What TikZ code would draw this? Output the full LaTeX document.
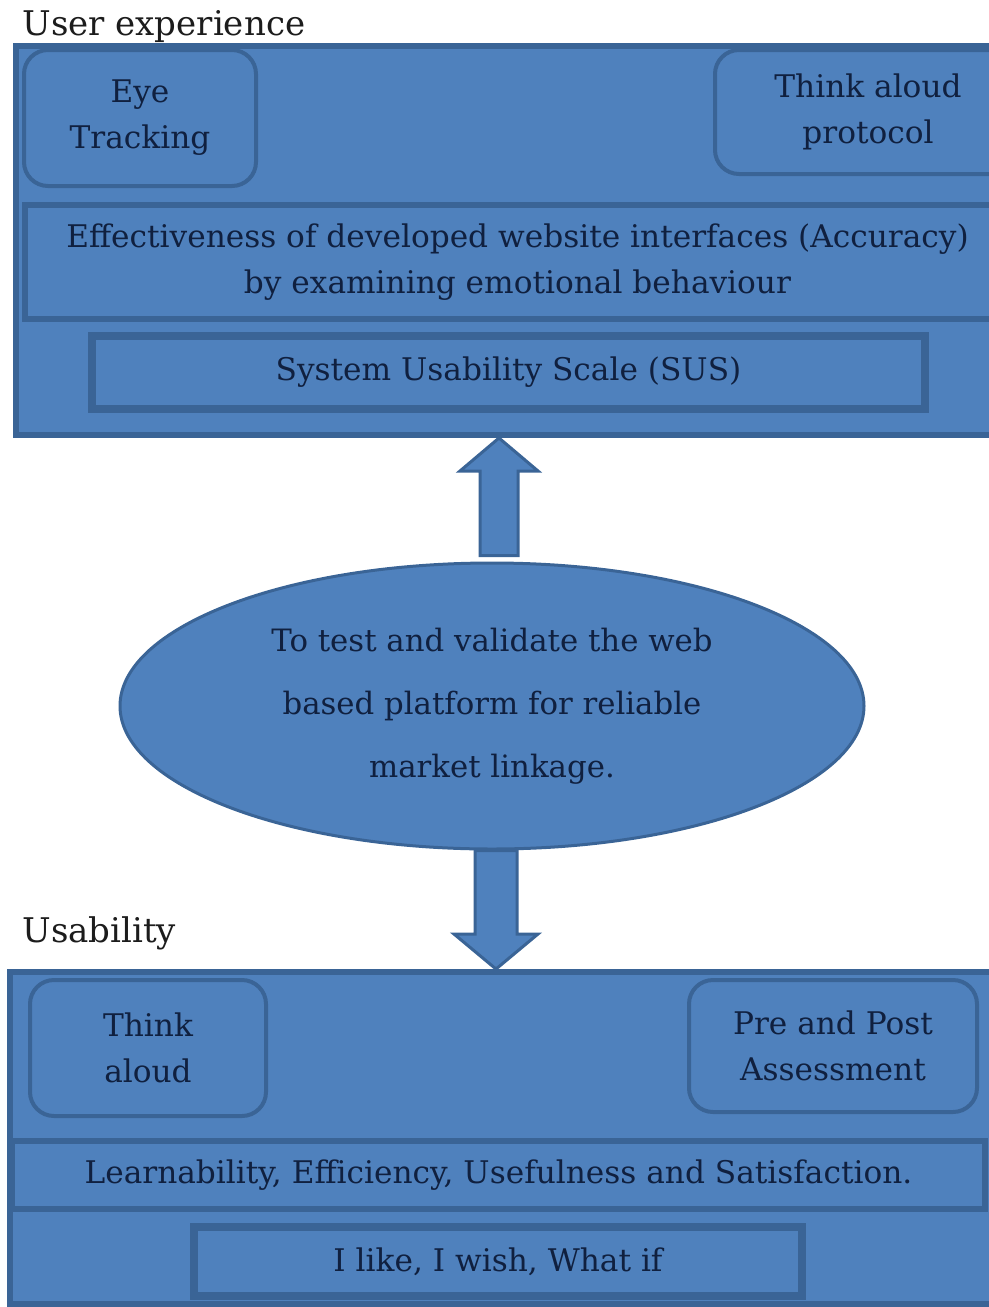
\documentclass[tikz,border=0pt]{standalone}
\usepackage{fontspec}
\setmainfont{DejaVu Serif}
\usepackage{xcolor}
\usepackage{tikz}
\usetikzlibrary{calc,shapes.geometric}
\definecolor{boxfill}{HTML}{4F81BD}
\definecolor{boxline}{HTML}{3A6496}
\definecolor{boxtext}{HTML}{10203F}
\definecolor{labeltext}{HTML}{1C1C1C}

\begin{document}
\begin{tikzpicture}[x=0.5pt,y=-0.5pt,
    panel/.style={draw=boxline,fill=boxfill,line width=3pt,rectangle},
    band/.style={draw=boxline,fill=boxfill,line width=3pt,rectangle,text=boxtext,
      align=center,font=\fontsize{15.6}{23}\selectfont},
    roundbox/.style={band,rounded corners=12pt,line width=2pt},
    framebox/.style={band,line width=4pt},
    heading/.style={text=labeltext,inner sep=0pt,anchor=base west,font=\fontsize{17}{24}\selectfont},
    blockarrow/.style={draw=boxline,fill=boxfill,line width=1.5pt,line join=miter}]
  \useasboundingbox (0,0) rectangle (989,1307);
  \clip (0,0) rectangle (989,1307);

  \node[heading] (uxlabel) at (22,35) {User experience};
  \node[panel,minimum width=492pt,minimum height=194.5pt] (uxbox) at (508,240.5) {};
  \node[roundbox,minimum width=116pt,minimum height=68pt] (eyetrack) at (140,118) {Eye\\Tracking};
  \node[roundbox,minimum width=153pt,minimum height=62pt] (thinkproto) at (868,112) {Think aloud\\protocol};
  \node[band,minimum width=492.5pt,minimum height=57pt] (effect) at (517.5,262)
    {Effectiveness of developed website interfaces (Accuracy)\\by examining emotional behaviour};
  \node[framebox,minimum width=416.5pt,minimum height=36.5pt] (sus) at (508.5,372.5) {System Usability Scale (SUS)};

  \node[draw=boxline,fill=boxfill,line width=1.5pt,ellipse,minimum width=372pt,minimum height=143pt,
    text=boxtext,align=center,font=\fontsize{15.4}{31.5}\selectfont] (goal) at (492,706)
    {To test and validate the web\\based platform for reliable\\market linkage.};

  \node[heading] (uselabel) at (22,942) {Usability};
  \node[panel,minimum width=495pt,minimum height=166pt] (usebox) at (505,1138) {};
  \node[roundbox,minimum width=118pt,minimum height=68pt] (thinkaloud) at (148,1048) {Think\\aloud};
  \node[roundbox,minimum width=144pt,minimum height=66pt] (prepost) at (833,1046) {Pre and Post\\Assessment};
  \node[band,minimum width=486.5pt,minimum height=34pt] (learn) at (498.5,1175)
    {Learnability, Efficiency, Usefulness and Satisfaction.};
  \node[framebox,minimum width=304pt,minimum height=34.5pt] (ilike) at (498,1261.5) {I like, I wish, What if};

  \draw[blockarrow] let \p1=(goal.north), \p2=(uxbox.south), \p3=($(goal.north)+(7,0)$) in
    (\x3-9.5pt,\y1+3pt) -- (\x3-9.5pt,\y2-16.5pt) -- (\x3-19.5pt,\y2-16.5pt) -- (\x3,\y2)
    -- (\x3+19.5pt,\y2-16.5pt) -- (\x3+9.5pt,\y2-16.5pt) -- (\x3+9.5pt,\y1+3pt) -- cycle;
  \draw[blockarrow] let \p1=(goal.south), \p2=(usebox.north), \p3=($(goal.south)+(4,0)$) in
    (\x3-10.5pt,\y1) -- (\x3-10.5pt,\y2+17.5pt) -- (\x3-21pt,\y2+17.5pt) -- (\x3,\y2)
    -- (\x3+21pt,\y2+17.5pt) -- (\x3+10.5pt,\y2+17.5pt) -- (\x3+10.5pt,\y1) -- cycle;
\end{tikzpicture}
\end{document}
